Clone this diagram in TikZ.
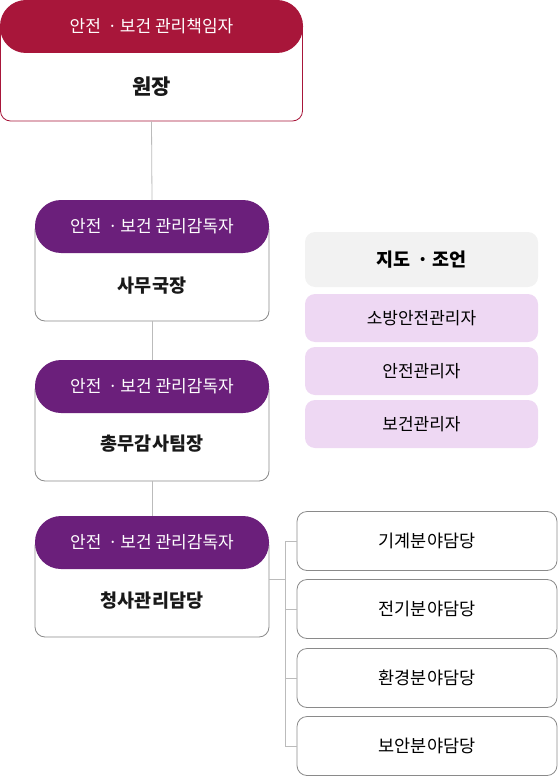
\documentclass[tikz,border=0pt]{standalone}
\usepackage{fontspec}
\setmainfont{Noto Sans CJK KR}
\definecolor{crim}{HTML}{A8163A}
\definecolor{purp}{HTML}{6B1F7B}
\definecolor{lav}{HTML}{EED8F3}
\definecolor{lgray}{HTML}{F2F2F2}
\definecolor{bord}{HTML}{8A8A8A}
\definecolor{conn}{HTML}{BBBBBB}
\tikzset{
  hdr/.style={rounded corners=26pt, inner sep=0pt, minimum height=53pt, text=white, font=\fontsize{17}{17}\selectfont},
  bodybox/.style={draw=bord, line width=0.8pt, rounded corners=10pt, fill=white, inner sep=0pt},
  maintxt/.style={font=\fontsize{18.5}{18.5}\selectfont\bfseries, text=black!90},
  sidebox/.style={rounded corners=10pt, inner sep=0pt, minimum width=233pt, font=\fontsize{17}{17}\selectfont},
  subbox/.style={draw=bord, line width=0.8pt, rounded corners=10pt, inner sep=0pt, minimum width=260pt, minimum height=59pt, font=\fontsize{17.5}{17.5}\selectfont},
  cline/.style={draw=conn, line width=0.8pt}
}
\begin{document}
\begin{tikzpicture}[x=1pt,y=-1pt]
\useasboundingbox (0,0) rectangle (558,778);
% top box
\node[bodybox, draw=crim, minimum width=302pt, minimum height=101pt] (b1) at (151.5,70.5) {};
\node[hdr, fill=crim, minimum width=303pt] (h1) at (151.5,26.5) {안전 \,·\,보건 관리책임자};
\node[maintxt, font=\fontsize{21}{21}\selectfont\bfseries] (t1) at (151.5,87) {원장};
% box 2
\node[bodybox, minimum width=234pt, minimum height=101pt] (b2) at (152,270.5) {};
\node[hdr, fill=purp, minimum width=234pt] (h2) at (152,226.5) {안전 \,·\,보건 관리감독자};
\node[maintxt] (t2) at (152,286) {사무국장};
% box 3
\node[bodybox, minimum width=234pt, minimum height=101pt] (b3) at (152,430.5) {};
\node[hdr, fill=purp, minimum width=234pt] (h3) at (152,386.5) {안전 \,·\,보건 관리감독자};
\node[maintxt] (t3) at (152,444) {총무감사팀장};
% box 4
\node[bodybox, minimum width=234pt, minimum height=101pt] (b4) at (152,586.5) {};
\node[hdr, fill=purp, minimum width=234pt] (h4) at (152,542.5) {안전 \,·\,보건 관리감독자};
\node[maintxt] (t4) at (152,601) {청사관리담당};
% vertical connectors
\draw[cline] (b1.south) -- (h2.north);
\draw[cline] (b2.south) -- (h3.north);
\draw[cline] (b3.south) -- (h4.north);
% side boxes
\node[sidebox, fill=lgray, minimum height=55pt, font=\fontsize{18.5}{18.5}\selectfont\bfseries] (s0) at (421.5,259.5) {지도 \,·\,조언};
\node[sidebox, fill=lav, minimum height=48pt] (s1) at (421.5,318) {소방안전관리자};
\node[sidebox, fill=lav, minimum height=48pt] (s2) at (421.5,371) {안전관리자};
\node[sidebox, fill=lav, minimum height=48pt] (s3) at (421.5,424) {보건관리자};
% sub boxes
\node[subbox] (r1) at (427,541) {기계분야담당};
\node[subbox] (r2) at (427,609) {전기분야담당};
\node[subbox] (r3) at (427,678) {환경분야담당};
\node[subbox] (r4) at (427,746) {보안분야담당};
\coordinate (bj) at (285,579);
\draw[cline] (b4.east |- bj) -- (bj);
\draw[cline] (r1.west) -| (bj);
\draw[cline] (r4.west) -| (bj);
\draw[cline] (r2.west) -- (r2.west -| bj);
\draw[cline] (r3.west) -- (r3.west -| bj);
\end{tikzpicture}
\end{document}
